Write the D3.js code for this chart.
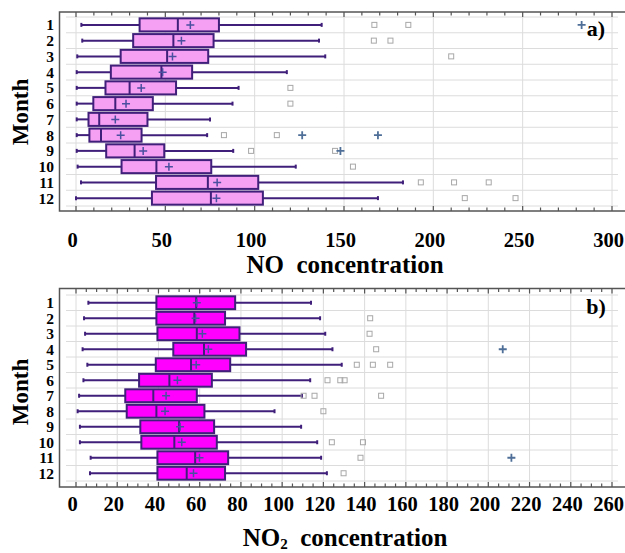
<!DOCTYPE html>
<html><head><meta charset="utf-8">
<script src="https://cdn.jsdelivr.net/npm/d3@7"></script>
<style>
body{margin:0;background:#fff;}
svg{display:block;}
text{font-family:"Liberation Serif","Times New Roman",serif;font-weight:bold;fill:#000;}
</style></head>
<body>
<svg id="chart" width="625" height="553"></svg>
<script>
const months = [1,2,3,4,5,6,7,8,9,10,11,12];

// Panel a) NO
const noTicks = [0,50,100,150,200,250,300];
const noMin  = [3, 3.5, 0.7, 0.4, 0.4, 0.4, 0.4, 0.4, 0.4, 0.9, 2.8, 0];
const noQ1   = [35.6, 32, 25, 19.5, 16.5, 9.7, 7, 7.5, 16.9, 25.5, 44.8, 42.5];
const noMed  = [57, 54.5, 51, 47.8, 30, 22, 13, 14, 32.8, 45, 73.8, 75.5];
const noMean = [64, 59, 54, 48.5, 36.5, 28, 22, 25, 37.6, 52, 79, 78.6];
const noQ3   = [80, 77, 74, 65, 56, 43, 40, 36.7, 49.4, 75.7, 102, 104.6];
const noMax  = [137.5, 136, 139.5, 118, 91, 87.6, 75, 73.4, 88, 123, 183, 169];
const noOut  = [[167,186],[166.7,176],[210],[],[120],[120],[],[82.8,112.4],[98,145],[155],[193,211.6,231],[217.6,246]];
const noFar  = [[283],[],[],[],[],[],[],[126.6,169],[148],[],[],[]];

// Panel b) NO2
const no2Ticks = [0,20,40,60,80,100,120,140,160,180,200,220,240,260];
const no2Min  = [6, 3.9, 4.4, 3.2, 5.5, 3.6, 1.5, 0.8, 1.9, 1.9, 7.1, 6.8];
const no2Q1   = [39, 39, 39.5, 47.2, 38.7, 30.6, 23.9, 24.6, 31.2, 31.7, 39.5, 39.5];
const no2Med  = [58.3, 57.4, 58.6, 62.1, 55.8, 45.3, 37.5, 39, 50, 47.7, 57.8, 53.7];
const no2Mean = [58.6, 58, 61.3, 64.2, 58.3, 49.2, 43.7, 43.2, 50.5, 51.3, 59.9, 57];
const no2Q3   = [77.2, 72.3, 79.3, 82.5, 74.8, 65.9, 58.6, 62.3, 67, 68.3, 73.8, 72.3];
const no2Max  = [114, 118.4, 120.9, 124.4, 128.9, 113.6, 109.6, 96.3, 109.2, 117, 118.9, 121.7];
const no2Out  = [[],[142.7],[142.4],[145.6],[136.2,144,152.4],[122,128.2,130.3],[110.4,115.7,148],[120],[],[124.1,139.2],[138],[129.8]];
const no2Far  = [[],[],[],[207],[],[],[],[],[],[],[211.2],[]];

const svg = d3.select("#chart");

function panel(cfg){
  const g = svg.append("g");
  const x = d3.scaleLinear().domain(cfg.domain).range([76, 612]);
  const y = d3.scaleBand().domain(months).range([cfg.bandTop, cfg.bandBot]).padding(0);
  const step = y.bandwidth();
  const bh = step * 0.83;
  const gridC = "#dcdcdc", frameC = "#555", purple = "#3f1f7a";

  g.selectAll(".vg").data(cfg.ticks).join("line")
    .attr("x1", d=>x(d)).attr("x2", d=>x(d))
    .attr("y1", cfg.frameTop).attr("y2", cfg.frameBot)
    .attr("stroke", gridC).attr("stroke-width", 1);
  const bounds = months.map(m=>y(m)).concat([cfg.bandBot]);
  g.selectAll(".hg").data(bounds).join("line")
    .attr("x1", 66).attr("x2", 618)
    .attr("y1", d=>d).attr("y2", d=>d)
    .attr("stroke", gridC).attr("stroke-width", 1);

  g.append("path")
    .attr("d", `M625,${cfg.frameTop}H59.5V${cfg.frameBot}H625`)
    .attr("fill","none").attr("stroke", frameC).attr("stroke-width", 1.5);

  const minor = d3.range(cfg.domain[0], cfg.domain[1] + 0.001, cfg.minorStep);
  const isMajor = v => cfg.ticks.some(t=>Math.abs(t-v)<1e-6);
  g.selectAll(".tt").data(minor).join("line")
    .attr("x1", d=>x(d)).attr("x2", d=>x(d))
    .attr("y1", cfg.frameTop).attr("y2", d=>cfg.frameTop + (isMajor(d)?5:3.5))
    .attr("stroke", frameC).attr("stroke-width", 1.2);
  g.selectAll(".bt").data(minor).join("line")
    .attr("x1", d=>x(d)).attr("x2", d=>x(d))
    .attr("y1", cfg.frameBot).attr("y2", d=>cfg.frameBot - (isMajor(d)?5:3.5))
    .attr("stroke", frameC).attr("stroke-width", 1.2);

  const xAxis = d3.axisBottom(x).tickValues(cfg.ticks).tickSize(0).tickPadding(0).tickFormat(d3.format("d"));
  const ax = g.append("g").attr("transform", `translate(-4,${cfg.labelY})`).call(xAxis);
  ax.select(".domain").remove();
  ax.selectAll("text").attr("font-size", 20.5).attr("font-family", '"Liberation Serif",serif')
    .attr("font-weight","bold").attr("fill","#000").attr("dy", 0);

  const yAxis = d3.axisLeft(y).tickSize(0).tickPadding(0);
  const ay = g.append("g").attr("transform", "translate(54,0)").call(yAxis);
  ay.select(".domain").remove();
  ay.selectAll("text").attr("font-size", 15.5).attr("font-family", '"Liberation Serif",serif')
    .attr("font-weight","bold").attr("fill","#000").attr("dy","0.35em");

  months.forEach((m,i)=>{
    const cy = y(m) + step/2;
    const wg = g.append("g");
    wg.append("line").attr("x1", x(cfg.min[i])).attr("x2", x(cfg.q1[i]))
      .attr("y1", cy).attr("y2", cy).attr("stroke", purple).attr("stroke-width", 2);
    wg.append("line").attr("x1", x(cfg.q3[i])).attr("x2", x(cfg.max[i]))
      .attr("y1", cy).attr("y2", cy).attr("stroke", purple).attr("stroke-width", 2);
    [cfg.min[i], cfg.max[i]].forEach(v=>{
      wg.append("line").attr("x1", x(v)).attr("x2", x(v))
        .attr("y1", cy-2).attr("y2", cy+2).attr("stroke", purple).attr("stroke-width", 2);
    });
    wg.append("rect").attr("x", x(cfg.q1[i])).attr("width", x(cfg.q3[i]) - x(cfg.q1[i]))
      .attr("y", cy - bh/2).attr("height", bh)
      .attr("fill", cfg.fill).attr("stroke", purple).attr("stroke-width", 2);
    wg.append("line").attr("x1", x(cfg.med[i])).attr("x2", x(cfg.med[i]))
      .attr("y1", cy - bh/2).attr("y2", cy + bh/2).attr("stroke", purple).attr("stroke-width", 2);
    const mx = x(cfg.mean[i]);
    wg.append("path").attr("d", `M${mx-4},${cy}H${mx+4}M${mx},${cy-4}V${cy+4}`)
      .attr("stroke", "#4a4fa0").attr("stroke-width", 1.5).attr("fill","none");
    cfg.out[i].forEach(v=>{
      wg.append("rect").attr("x", x(v)-2.5).attr("y", cy-2.5).attr("width",5).attr("height",5)
        .attr("fill","none").attr("stroke","#a8a8a8").attr("stroke-width",1);
    });
    cfg.far[i].forEach(v=>{
      const fx = x(v);
      wg.append("path").attr("d", `M${fx-4},${cy}H${fx+4}M${fx},${cy-4}V${cy+4}`)
        .attr("stroke", "#4f6f98").attr("stroke-width", 1.8).attr("fill","none");
    });
  });

  g.append("text").attr("transform", `translate(${cfg.monthX},${cfg.monthY}) rotate(-90)`)
    .attr("text-anchor","middle").attr("dy","0.35em").attr("font-size", 23).text("Month");
  const t = g.append("text").attr("x", 345).attr("y", cfg.titleY)
    .attr("text-anchor","middle").attr("font-size", 25);
  t.append("tspan").text(cfg.titleA);
  if (cfg.sub) {
    t.append("tspan").attr("font-size", 15).attr("dy", 3).text(cfg.sub);
    t.append("tspan").attr("dy", -3).text("\u00a0 concentration");
  } else {
    t.append("tspan").text("\u00a0 concentration");
  }
  g.append("text").attr("x", 596).attr("y", cfg.panelY).attr("text-anchor","middle")
    .attr("dy","0.35em").attr("font-size", 22).text(cfg.panelLabel);
}

panel({domain:[0,300], ticks:noTicks, minorStep:10,
  frameTop:12, frameBot:211, bandTop:17, bandBot:206,
  labelY:247, titleY:273, monthX:20, monthY:112, panelY:28, panelLabel:"a)",
  min:noMin, q1:noQ1, med:noMed, mean:noMean, q3:noQ3, max:noMax, out:noOut, far:noFar,
  fill:"#f5a0f3", titleA:"NO", sub:null});

panel({domain:[0,260], ticks:no2Ticks, minorStep:5,
  frameTop:288.5, frameBot:487, bandTop:295, bandBot:481,
  labelY:511, titleY:546, monthX:20, monthY:392, panelY:306, panelLabel:"b)",
  min:no2Min, q1:no2Q1, med:no2Med, mean:no2Mean, q3:no2Q3, max:no2Max, out:no2Out, far:no2Far,
  fill:"#ff00ff", titleA:"NO", sub:"2"});
</script>
</body></html>
